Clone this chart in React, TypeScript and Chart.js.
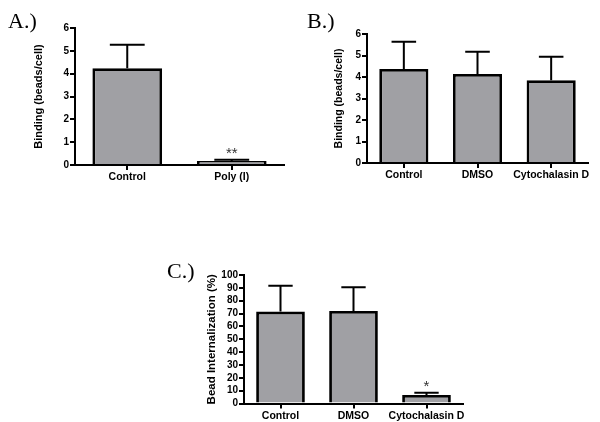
import React, { useEffect, useRef } from "react";
import { Chart, registerables } from "chart.js";

Chart.register(...registerables);

// ---------- Data ----------
const panelALabels = ["Control", "Poly (I)"];
const panelAValues = [4.24, 0.18];
const panelAErrors = [1.03, 0.05];
const panelAMarks = ["", "**"];
const panelAYMax = 6;
const panelAYStep = 1;
const panelATitle = "Binding (beads/cell)";
const panelALetter = "A.)";

const panelBLabels = ["Control", "DMSO", "Cytochalasin D"];
const panelBValues = [4.37, 4.14, 3.85];
const panelBErrors = [1.27, 1.04, 1.09];
const panelBMarks = ["", "", ""];
const panelBYMax = 6;
const panelBYStep = 1;
const panelBTitle = "Binding (beads/cell)";
const panelBLetter = "B.)";

const panelCLabels = ["Control", "DMSO", "Cytochalasin D"];
const panelCValues = [71.5, 72.0, 6.6];
const panelCErrors = [20.1, 18.5, 1.8];
const panelCMarks = ["", "", "*"];
const panelCYMax = 100;
const panelCYStep = 10;
const panelCTitle = "Bead Internalization (%)";
const panelCLetter = "C.)";

// ---------- Styling ----------
const SANS = 'Arial, "Liberation Sans", Helvetica, sans-serif';
const SERIF = '"Times New Roman", "Liberation Serif", serif';
const BAR_FILL = "#a0a0a4";

const errorBarPlugin = {
  id: "errorBars",
  afterDatasetsDraw(chart: any, _args: any, opts: any) {
    const { ctx } = chart;
    const meta = chart.getDatasetMeta(0);
    const ds = chart.data.datasets[0];
    const yScale = chart.scales.y;
    const errs: number[] = opts.errors || [];
    const marks: string[] = opts.marks || [];
    ctx.save();
    ctx.strokeStyle = "#000";
    ctx.lineWidth = 2;
    meta.data.forEach((bar: any, i: number) => {
      const v = ds.data[i] as number;
      const top = yScale.getPixelForValue(v + (errs[i] || 0));
      const x = bar.x;
      const w = bar.width;
      ctx.beginPath();
      ctx.moveTo(x, bar.y);
      ctx.lineTo(x, top);
      ctx.moveTo(x - w / 4, top);
      ctx.lineTo(x + w / 4, top);
      ctx.stroke();
      if (marks[i]) {
        ctx.fillStyle = "#333";
        ctx.font = `15px ${SANS}`;
        ctx.textAlign = "center";
        ctx.textBaseline = "alphabetic";
        ctx.fillText(marks[i], x, top - 2);
      }
    });
    ctx.restore();
  },
};

const letterPlugin = {
  id: "panelLetter",
  afterDraw(chart: any, _args: any, opts: any) {
    if (!opts.text) return;
    const { ctx } = chart;
    ctx.save();
    ctx.fillStyle = "#000";
    ctx.font = `${opts.size}px ${SERIF}`;
    ctx.textAlign = "left";
    ctx.textBaseline = "alphabetic";
    ctx.fillText(opts.text, opts.x, opts.y);
    ctx.restore();
  },
};

type Layout = {
  left: number;
  top: number;
  w: number;
  h: number;
  area: { left: number; top: number; right: number; bottom: number };
  titleCx: number;
  titleSize: number;
  letterX: number;
  letterY: number;
};

type PanelProps = {
  labels: string[];
  values: number[];
  errors: number[];
  marks: string[];
  yMax: number;
  yStep: number;
  yTitle: string;
  letter: string;
  layout: Layout;
};

function Panel({ labels, values, errors, marks, yMax, yStep, yTitle, letter, layout }: PanelProps) {
  const ref = useRef<HTMLCanvasElement | null>(null);
  useEffect(() => {
    if (!ref.current) return;
    const { w, h, area, titleCx, titleSize } = layout;
    const lh = titleSize * 1.2;
    const tickFont = { family: SANS, size: 10, weight: "bold" as const };
    const catFont = { family: SANS, size: 10.5, weight: "bold" as const };
    const chart = new Chart(ref.current, {
      type: "bar",
      data: {
        labels,
        datasets: [
          {
            data: values,
            backgroundColor: BAR_FILL,
            borderColor: "#000",
            borderWidth: 2.8,
            borderSkipped: "bottom",
            barPercentage: 0.667,
            categoryPercentage: 1,
          },
        ],
      },
      options: {
        animation: false,
        responsive: false,
        events: [],
        layout: {
          padding: { left: 0, top: area.top, right: w - area.right, bottom: 0 },
        },
        plugins: {
          legend: { display: false },
          tooltip: { enabled: false },
          errorBars: { errors, marks },
          panelLetter: { text: letter, x: layout.letterX, y: layout.letterY, size: 22 },
        } as any,
        scales: {
          x: {
            offset: true,
            ticks: { font: catFont, color: "#000", padding: 1, maxRotation: 0, autoSkip: false },
            grid: {
              display: true,
              offset: false,
              drawOnChartArea: false,
              drawTicks: true,
              tickLength: 5,
              color: "#000",
              lineWidth: 2,
            },
            border: { display: true, color: "#000", width: 2 },
            afterFit: (s: any) => {
              s.height = h - area.bottom;
            },
          },
          y: {
            min: 0,
            max: yMax,
            ticks: { stepSize: yStep, autoSkip: false, font: tickFont, color: "#000", padding: 1 },
            grid: {
              display: true,
              drawOnChartArea: false,
              drawTicks: true,
              tickLength: 5,
              color: "#000",
              lineWidth: 2,
            },
            border: { display: true, color: "#000", width: 2 },
            title: {
              display: true,
              text: yTitle,
              color: "#000",
              font: { family: SANS, size: titleSize, weight: "bold" },
              padding: { top: titleCx - lh / 2, bottom: 0 },
            },
            afterFit: (s: any) => {
              s.width = area.left;
            },
          },
        },
      },
      plugins: [errorBarPlugin, letterPlugin],
    });
    return () => chart.destroy();
  }, []);
  return (
    <div style={{ position: "absolute", left: layout.left, top: layout.top, width: layout.w, height: layout.h }}>
      <canvas ref={ref} width={layout.w} height={layout.h} style={{ display: "block", width: layout.w, height: layout.h }} />
    </div>
  );
}

const layoutA: Layout = {
  left: 0, top: 0, w: 300, h: 200,
  area: { left: 75, top: 28, right: 284, bottom: 165 },
  titleCx: 39, titleSize: 11, letterX: 8, letterY: 28,
};
const layoutB: Layout = {
  left: 300, top: 0, w: 300, h: 200,
  area: { left: 67, top: 34, right: 288, bottom: 163 },
  titleCx: 39, titleSize: 10.5, letterX: 7, letterY: 28,
};
const layoutC: Layout = {
  left: 150, top: 240, w: 330, h: 182,
  area: { left: 94, top: 35, right: 313, bottom: 163.5 },
  titleCx: 62, titleSize: 11.5, letterX: 17, letterY: 38,
};

export default function App() {
  return (
    <div style={{ position: "fixed", left: 0, top: 0, width: 600, height: 422, background: "#fff", overflow: "hidden" }}>
      <Panel labels={panelALabels} values={panelAValues} errors={panelAErrors} marks={panelAMarks}
        yMax={panelAYMax} yStep={panelAYStep} yTitle={panelATitle} letter={panelALetter} layout={layoutA} />
      <Panel labels={panelBLabels} values={panelBValues} errors={panelBErrors} marks={panelBMarks}
        yMax={panelBYMax} yStep={panelBYStep} yTitle={panelBTitle} letter={panelBLetter} layout={layoutB} />
      <Panel labels={panelCLabels} values={panelCValues} errors={panelCErrors} marks={panelCMarks}
        yMax={panelCYMax} yStep={panelCYStep} yTitle={panelCTitle} letter={panelCLetter} layout={layoutC} />
    </div>
  );
}
